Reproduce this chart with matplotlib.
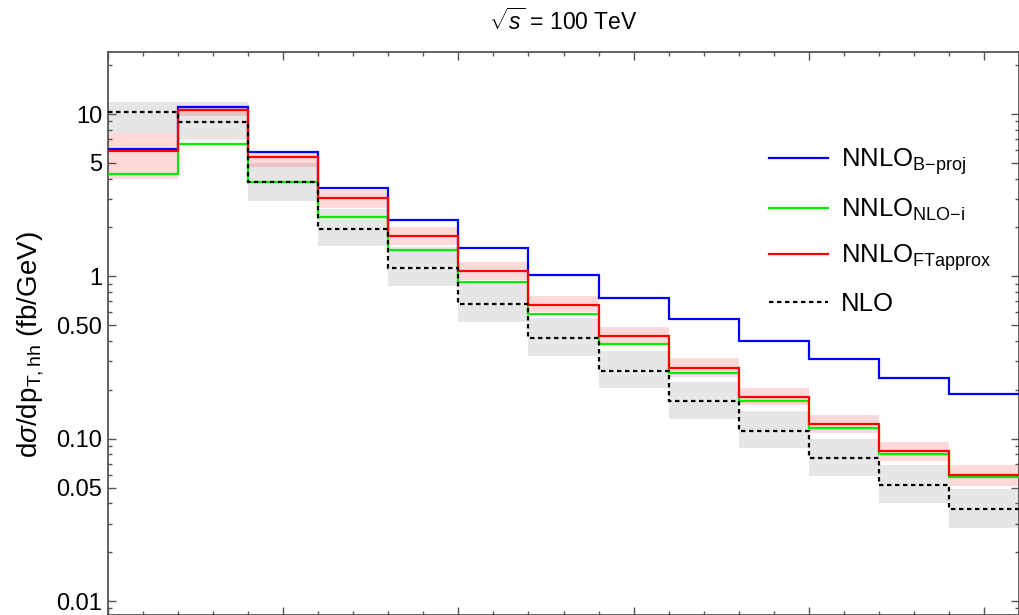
import matplotlib
matplotlib.use("Agg")
import matplotlib.pyplot as plt
import numpy as np
from matplotlib.ticker import FixedLocator, FixedFormatter, MultipleLocator

plt.rcParams["font.family"] = ["Liberation Sans", "DejaVu Sans"]
plt.rcParams["mathtext.fontset"] = "custom"
plt.rcParams["mathtext.rm"] = "Liberation Sans"
plt.rcParams["mathtext.it"] = "Liberation Sans:italic"

# bins in p_T,hh (GeV)
edges = np.arange(0, 521, 40)

b_proj = [6.09, 10.99, 5.86, 3.49, 2.22, 1.49, 1.02, 0.738, 0.543, 0.401, 0.308, 0.237, 0.189]
nlo_i = [4.29, 6.53, 3.79, 2.33, 1.45, 0.92, 0.59, 0.385, 0.255, 0.171, 0.116, 0.081, 0.0577]
ft_approx = [5.94, 10.58, 5.46, 3.04, 1.77, 1.08, 0.67, 0.43, 0.273, 0.181, 0.1225, 0.0839, 0.0597]
ft_lo = [3.96, 9.75, 4.73, 2.62, 1.56, 0.95, 0.605, 0.377, 0.241, 0.161, 0.108, 0.0726, 0.0511]
ft_hi = [7.62, 11.1, 5.86, 3.40, 2.02, 1.23, 0.76, 0.485, 0.313, 0.206, 0.140, 0.0957, 0.0688]
nlo = [10.24, 8.97, 3.79, 1.96, 1.13, 0.675, 0.415, 0.262, 0.171, 0.112, 0.0757, 0.052, 0.0367]
nlo_lo = [7.6, 6.92, 2.92, 1.54, 0.875, 0.525, 0.324, 0.204, 0.132, 0.087, 0.0589, 0.0403, 0.0282]
nlo_hi = [11.8, 11.9, 5.0, 2.6, 1.52, 0.91, 0.55, 0.348, 0.224, 0.148, 0.0995, 0.0688, 0.0487]

fig = plt.figure(figsize=(10.19, 6.15), dpi=100)
ax = fig.add_axes([108 / 1019, 0.0, 911 / 1019, 1 - 52 / 615])

# scale bands
ax.stairs(nlo_hi, edges, baseline=nlo_lo, fill=True, color="#e6e6e6", lw=0, zorder=1)
ax.stairs(ft_hi, edges, baseline=ft_lo, fill=True, color="red", alpha=0.15, lw=0, zorder=2)

ax.stairs(b_proj, edges, baseline=None, color="blue", lw=1.6, zorder=3,
          label=r"NNLO$_{\mathrm{B{-}proj}}$")
ax.stairs(nlo_i, edges, baseline=None, color="#00ee00", lw=1.6, zorder=4,
          label=r"NNLO$_{\mathrm{NLO{-}i}}$")
ax.stairs(ft_approx, edges, baseline=None, color="red", lw=1.6, zorder=5,
          label=r"NNLO$_{\mathrm{FTapprox}}$")
ax.stairs(nlo, edges, baseline=None, color="black", lw=1.6, ls=(0, (2.0, 1.6)), zorder=6,
          label="NLO")

ax.set_yscale("log")
ax.set_xlim(0, 520)
ax.set_ylim(0.0082, 24.1)

yt = [0.01, 0.05, 0.1, 0.5, 1, 5, 10]
ax.yaxis.set_major_locator(FixedLocator(yt))
ax.yaxis.set_major_formatter(FixedFormatter(["0.01", "0.05", "0.10", "0.50", "1", "5", "10"]))
minors = [m * 10.0 ** e for e in range(-3, 2) for m in range(1, 10) if m not in (1, 5)]
ax.yaxis.set_minor_locator(FixedLocator(minors))
ax.xaxis.set_major_locator(MultipleLocator(100))
ax.xaxis.set_minor_locator(MultipleLocator(20))
ax.set_xticklabels([])

ax.tick_params(which="both", direction="in", top=True, right=True, color="#555555", width=1.0)
ax.tick_params(which="major", length=6, labelsize=17, pad=4)
ax.tick_params(which="minor", length=3)
for s in ax.spines.values():
    s.set_color("#555555")
    s.set_linewidth(1.3)

ax.set_ylabel(r"d$\sigma$/dp$_{\mathrm{T,hh}}$ (fb/GeV)", fontsize=20)
ax.yaxis.set_label_coords(-0.068, 0.48)
fig.text(563 / 1019, 1 - 22 / 615, r"$\sqrt{s}$ = 100 TeV", fontsize=16.5, ha="center", va="center")

ax.legend(loc="upper left", bbox_to_anchor=(0.70, 0.873), frameon=False, fontsize=18.5,
          handlelength=2.3, handletextpad=0.5, labelspacing=0.75)

fig.savefig("out.png", dpi=100)
